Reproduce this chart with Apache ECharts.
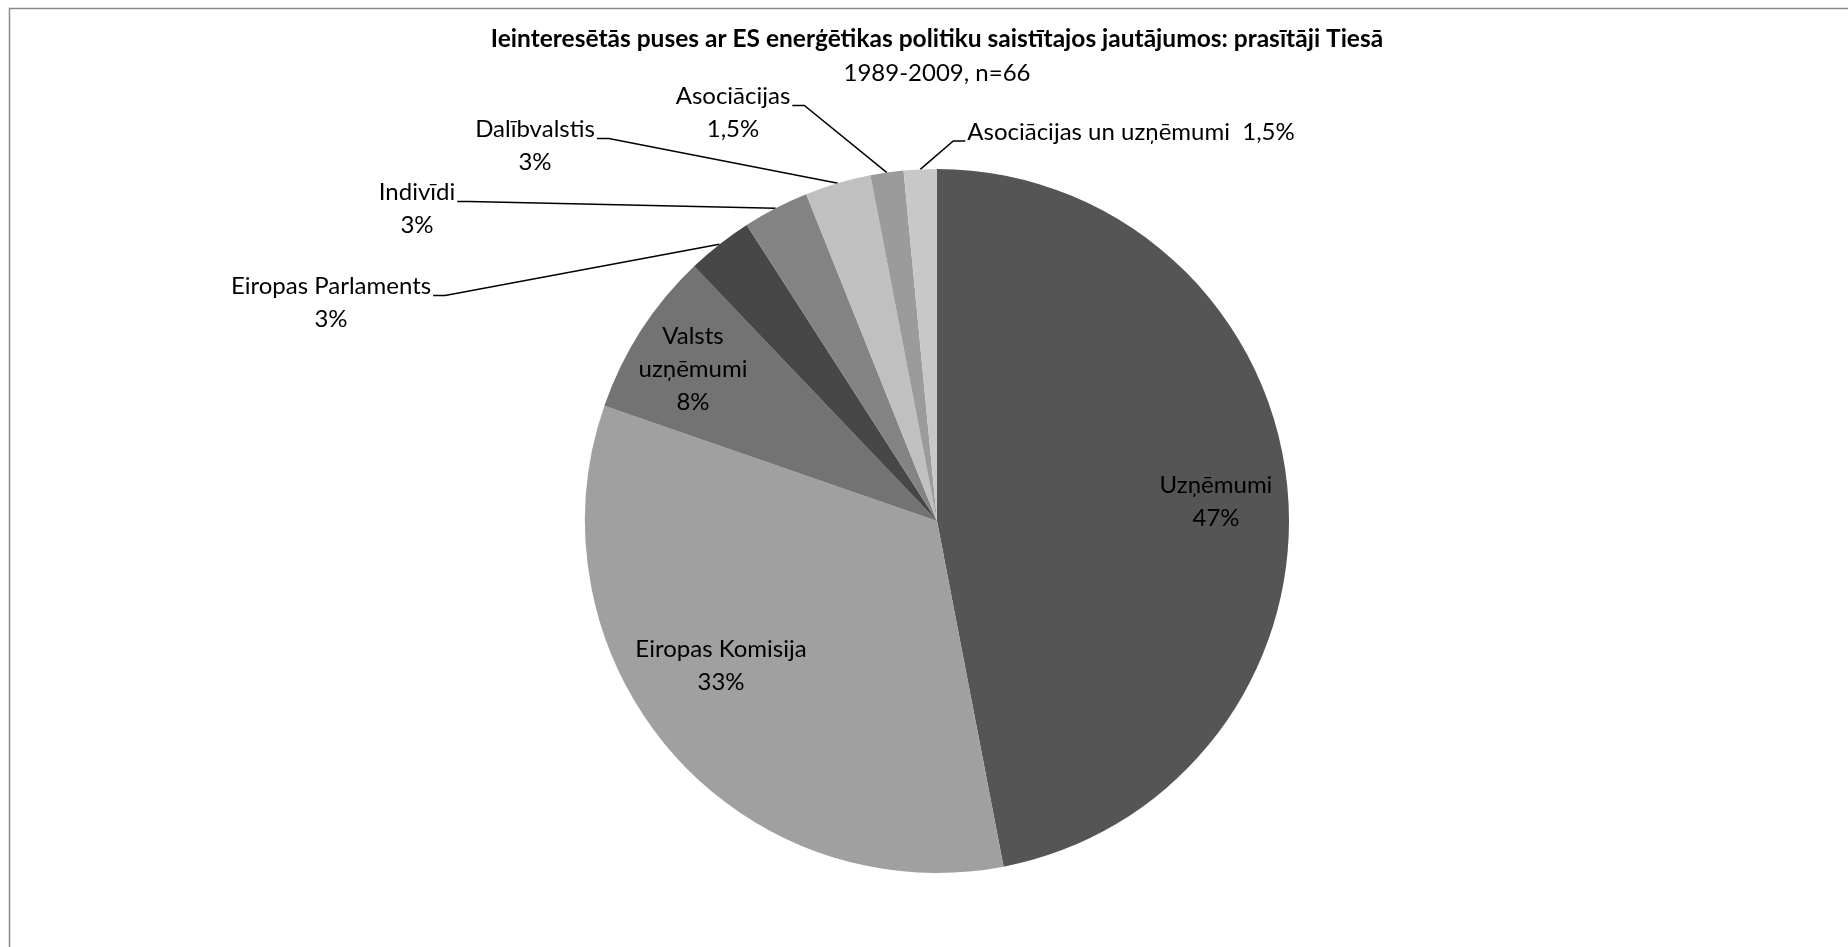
<!DOCTYPE html>
<html>
<head>
<meta charset="utf-8">
<script src="https://cdn.jsdelivr.net/npm/echarts@6/dist/echarts.min.js"></script>
<style>
html,body{margin:0;padding:0;background:#fff;}
#chart{width:1848px;height:947px;}
</style>
</head>
<body>
<div id="chart"></div>
<script>
// ---- data ----
const categories = ['Uzņēmumi', 'Eiropas Komisija', 'Valsts uzņēmumi', 'Eiropas Parlaments', 'Indivīdi', 'Dalībvalstis', 'Asociācijas', 'Asociācijas un uzņēmumi'];
const counts = [31, 22, 5, 2, 2, 2, 1, 1];
const pctLabels = ['47%', '33%', '8%', '3%', '3%', '3%', '1,5%', '1,5%'];
const labelNames = ['Uzņēmumi', 'Eiropas Komisija', 'Valsts\nuzņēmumi', 'Eiropas Parlaments', 'Indivīdi', 'Dalībvalstis', 'Asociācijas', 'Asociācijas un uzņēmumi '];
const labelSeparators = ['\n', '\n', '\n', '\n', '\n', '\n', '\n', ' '];
const titleText = 'Ieinteresētās puses ar ES enerģētikas politiku saistītajos jautājumos: prasītāji Tiesā';
const subtitleText = '1989-2009, n=66';

// ---- styles / layout ----
const colors = ['#555555', '#a0a0a0', '#737373', '#474747', '#838383', '#c0c0c0', '#9b9b9b', '#c8c8c8'];
const outsideLabel = [false, false, false, true, true, true, true, true];
const labelPos = [[1216, 502], [721, 666], [693, 369], [331, 303], [417, 209], [535, 146], [733, 113], [1131, 132]];
const leaderSide = [0, 0, 0, -1, -1, -1, -1, 1];
const FONT = 'Lato, "Noto Sans", sans-serif';
const FS = 24;
const LH = 33;

const chart = echarts.init(document.getElementById('chart'), null, {renderer: 'canvas'});

const seriesData = categories.map((name, i) => ({
  name: name,
  value: counts[i],
  itemStyle: {color: colors[i]},
  label: {position: outsideLabel[i] ? 'outside' : 'inside'},
  labelLine: {show: outsideLabel[i]}
}));

chart.setOption({
  backgroundColor: '#ffffff',
  animation: false,
  title: [
    {text: titleText, left: 937, top: 24, textAlign: 'center', padding: 0,
     textStyle: {fontFamily: FONT, fontSize: 24.5, fontWeight: 'bold', color: '#000', lineHeight: 30}},
    {text: subtitleText, left: 937, top: 58, textAlign: 'center', padding: 0,
     textStyle: {fontFamily: FONT, fontSize: FS, fontWeight: 'normal', color: '#000', lineHeight: 30}}
  ],
  graphic: [{
    type: 'rect', silent: true,
    shape: {x: 9.5, y: 8.5, width: 1900, height: 1000},
    style: {fill: 'none', stroke: '#8a8a8a', lineWidth: 1.5}
  }],
  series: [{
    type: 'pie',
    center: [937, 521],
    radius: [0, 352],
    startAngle: 90,
    clockwise: true,
    avoidLabelOverlap: false,
    itemStyle: {borderWidth: 0},
    emphasis: {disabled: true},
    label: {
      show: true,
      fontFamily: FONT,
      fontSize: FS,
      color: '#000',
      lineHeight: LH,
      align: 'center',
      formatter: p => labelNames[p.dataIndex] + labelSeparators[p.dataIndex] + pctLabels[p.dataIndex]
    },
    labelLine: {show: true, lineStyle: {color: '#000', width: 1.5}, length: 10, length2: 10},
    labelLayout: function (params) {
      const i = params.dataIndex;
      const p = labelPos[i];
      const w = params.labelRect.width;
      const h = params.labelRect.height;
      const out = {x: p[0], y: p[1], align: 'center', verticalAlign: 'middle'};
      const side = leaderSide[i];
      if (side !== 0 && params.labelLinePoints) {
        const edge = params.labelLinePoints[0];
        const firstLineCenter = p[1] - h / 2 + LH / 2;
        const ay = firstLineCenter + 9;
        const ax = side < 0 ? p[0] + w / 2 + 2 : p[0] - w / 2 - 2;
        const bx = ax - side * 12;
        out.labelLinePoints = [[edge[0], edge[1]], [bx, ay], [ax, ay]];
      }
      return out;
    },
    data: seriesData
  }]
});
</script>
</body>
</html>
